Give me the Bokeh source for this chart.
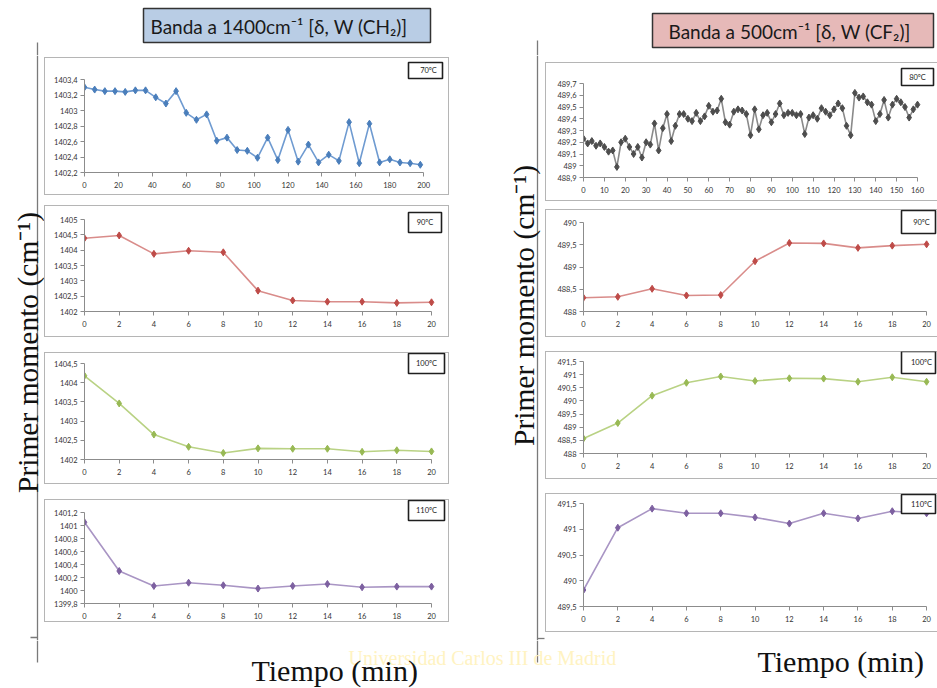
import numpy as np
from bokeh.plotting import figure
from bokeh.layouts import row, column
from bokeh.models import (Range1d, FixedTicker, CustomJSTickFormatter,
                          BoxAnnotation, Label, Spacer)
from bokeh.core.properties import value
from bokeh.embed import file_html
from bokeh.resources import INLINE

# ---------------- data ----------------
# CH2 band (~1400 cm-1), first moment vs time
t_70 = [0, 6, 12, 18, 24, 30, 36, 42, 48, 54, 60, 66, 72, 78, 84, 90, 96, 102,
        108, 114, 120, 126, 132, 138, 144, 150, 156, 162, 168, 174, 180, 186, 192, 198]
ch2_70 = [1403.30, 1403.27, 1403.25, 1403.25, 1403.24, 1403.26, 1403.26, 1403.17,
          1403.09, 1403.25, 1402.97, 1402.88, 1402.95, 1402.61, 1402.65, 1402.49,
          1402.48, 1402.39, 1402.65, 1402.36, 1402.75, 1402.34, 1402.56, 1402.33,
          1402.43, 1402.35, 1402.85, 1402.32, 1402.83, 1402.33, 1402.37, 1402.33,
          1402.32, 1402.30]

t_short = [0, 2, 4, 6, 8, 10, 12, 14, 16, 18, 20]
ch2_90 = [1404.39, 1404.48, 1403.88, 1403.98, 1403.93, 1402.68, 1402.36, 1402.32,
          1402.32, 1402.28, 1402.30]
ch2_100 = [1404.18, 1403.46, 1402.65, 1402.33, 1402.17, 1402.29, 1402.28, 1402.28,
           1402.20, 1402.24, 1402.21]
ch2_110 = [1401.05, 1400.30, 1400.07, 1400.12, 1400.08, 1400.03, 1400.07, 1400.10,
           1400.05, 1400.06, 1400.06]

# CF2 band (~500 cm-1), first moment vs time
t_80 = [0, 2, 4, 6, 8, 10, 12, 14, 16, 18, 20, 22, 24, 26, 28, 30, 32, 34, 36, 38,
        40, 42, 44, 46, 48, 50, 52, 54, 56, 58, 60, 62, 64, 66, 68, 70, 72, 74, 76,
        78, 80, 82, 84, 86, 88, 90, 92, 94, 96, 98, 100, 102, 104, 106, 108, 110,
        112, 114, 116, 118, 120, 122, 124, 126, 128, 130, 132, 134, 136, 138, 140,
        142, 144, 146, 148, 150, 152, 154, 156, 158, 160]
cf2_80 = [489.23, 489.19, 489.21, 489.17, 489.19, 489.16, 489.12, 489.13, 488.99,
          489.20, 489.23, 489.16, 489.10, 489.16, 489.07, 489.20, 489.18, 489.36,
          489.13, 489.32, 489.44, 489.21, 489.34, 489.44, 489.44, 489.40, 489.38,
          489.45, 489.38, 489.42, 489.51, 489.46, 489.47, 489.57, 489.37, 489.35,
          489.46, 489.48, 489.47, 489.44, 489.26, 489.48, 489.31, 489.43, 489.45,
          489.37, 489.44, 489.53, 489.43, 489.45, 489.45, 489.43, 489.44, 489.27,
          489.41, 489.43, 489.40, 489.49, 489.46, 489.43, 489.48, 489.53, 489.49,
          489.34, 489.26, 489.62, 489.58, 489.59, 489.54, 489.52, 489.38, 489.44,
          489.56, 489.41, 489.52, 489.57, 489.54, 489.50, 489.41, 489.48, 489.52]
cf2_90 = [488.31, 488.33, 488.51, 488.36, 488.37, 489.13, 489.54, 489.53, 489.43,
          489.48, 489.51]
cf2_100 = [488.57, 489.16, 490.20, 490.69, 490.93, 490.76, 490.86, 490.85, 490.73,
           490.90, 490.73]
cf2_110 = [489.82, 491.03, 491.40, 491.31, 491.31, 491.23, 491.11, 491.31, 491.21,
           491.35, 491.31]

# tick positions
ticks_t70 = [0, 20, 40, 60, 80, 100, 120, 140, 160, 180, 200]
ticks_t80 = [0, 10, 20, 30, 40, 50, 60, 70, 80, 90, 100, 110, 120, 130, 140, 150, 160]
ticks_short = [0, 2, 4, 6, 8, 10, 12, 14, 16, 18, 20]
ticks_ch2_70 = [1402.2, 1402.4, 1402.6, 1402.8, 1403.0, 1403.2, 1403.4]
ticks_ch2_90 = [1402.0, 1402.5, 1403.0, 1403.5, 1404.0, 1404.5, 1405.0]
ticks_ch2_100 = [1402.0, 1402.5, 1403.0, 1403.5, 1404.0, 1404.5]
ticks_ch2_110 = [1399.8, 1400.0, 1400.2, 1400.4, 1400.6, 1400.8, 1401.0, 1401.2]
ticks_cf2_80 = [488.9, 489.0, 489.1, 489.2, 489.3, 489.4, 489.5, 489.6, 489.7]
ticks_cf2_90 = [488.0, 488.5, 489.0, 489.5, 490.0]
ticks_cf2_100 = [488.0, 488.5, 489.0, 489.5, 490.0, 490.5, 491.0, 491.5]
ticks_cf2_110 = [489.5, 490.0, 490.5, 491.0, 491.5]

TICK_FONT = "Lato"
AXIS_GREY = "#8c8c8c"
BOX_GREY = "#b5b5b5"
BOX_ALL = "inset 0 0 0 1px " + BOX_GREY
BOX_OPEN_RIGHT = f"inset 1px 1px 0 0 {BOX_GREY}, inset 0 -1px 0 0 {BOX_GREY}"


def comma_fmt():
    return CustomJSTickFormatter(
        code="return String(Math.round(tick * 10) / 10).replace('.', ',');")


def panel(tx, vals, w, h, frame, xr, yr, xt, yt, line_c, mark_c, tag, tag_box,
          edge=BOX_ALL):
    # frame = (left, top, width, height) of the axis rectangle inside the chart box
    fl, ft, fw, fh = frame
    x0, x1 = xr
    y0, y1 = yr
    # the drawing area reaches the top and right of the chart box; the axes stop
    # at the data limits through their bounds
    x_end = x0 + (x1 - x0) * (w - fl) / fw
    y_end = y0 + (y1 - y0) * (ft + fh) / fh
    p = figure(width=w, height=h, x_range=Range1d(x0, x_end),
               y_range=Range1d(y0, y_end),
               min_border_left=fl, min_border_top=0, min_border_right=0,
               min_border_bottom=h - ft - fh,
               output_backend="svg", toolbar_location=None, tools="",
               styles={"box-shadow": edge})
    p.grid.visible = False
    p.outline_line_color = None
    p.background_fill_alpha = 0
    p.border_fill_alpha = 0

    p.line(tx, vals, line_color=line_c, line_width=1.6)
    p.scatter(tx, vals, marker="diamond", size=7, fill_color=mark_c,
              line_color=mark_c)

    p.xaxis.ticker = FixedTicker(ticks=xt)
    p.yaxis.ticker = FixedTicker(ticks=yt)
    p.yaxis.formatter = comma_fmt()
    p.xaxis.bounds = (x0, x1)
    p.yaxis.bounds = (y0, y1)
    for ax in (p.xaxis[0], p.yaxis[0]):
        ax.axis_line_color = AXIS_GREY
        ax.major_tick_line_color = AXIS_GREY
        ax.minor_tick_line_color = None
        ax.major_tick_out = 4
        ax.major_tick_in = 0
        ax.major_label_text_font = TICK_FONT
        ax.major_label_text_font_size = "7.5px"
        ax.major_label_text_color = "#333333"
    p.yaxis.major_label_standoff = 3
    p.xaxis.major_label_standoff = 5

    # temperature tag
    bx0, by0, bx1, by1 = tag_box
    p.add_layout(BoxAnnotation(left=bx0, right=bx1, top=by0, bottom=by1,
                               left_units="canvas", right_units="canvas",
                               top_units="canvas", bottom_units="canvas",
                               fill_color="white", fill_alpha=1,
                               line_color="#1f1f1f", line_alpha=1,
                               line_width=1.6))
    cx = (bx0 + bx1) / 2 - fl
    cy = (ft + fh) - (by0 + by1) / 2
    p.add_layout(Label(x=cx, y=cy, x_units="screen", y_units="screen", text=tag,
                       text_align="center", text_baseline="middle",
                       text_font=TICK_FONT, text_font_size="7.5px",
                       text_color="#222222"))
    return p


def deco(w, h):
    p = figure(width=w, height=h, x_range=Range1d(0, w), y_range=Range1d(h, 0),
               min_border=0, x_axis_type=None, y_axis_type=None,
               output_backend="svg", toolbar_location=None, tools="")
    p.grid.visible = False
    p.outline_line_color = None
    p.background_fill_color = "white"
    p.border_fill_color = "white"
    return p


BLUE_L, BLUE_M = "#6f9bd1", "#4a7ebb"
GREY_L, GREY_M = "#8a8a8a", "#4d4d4d"
RED_L, RED_M = "#d98c8a", "#be4b48"
GREEN_L, GREEN_M = "#b9d284", "#98b954"
PURP_L, PURP_M = "#a995c4", "#7d60a0"

LW, RW = 405, 392

# ---------------- left column: CH2 band ----------------
lp1 = panel(t_70, ch2_70, LW, 138, (37, 22, 342, 93), (0, 200), (1402.2, 1403.4),
            ticks_t70, ticks_ch2_70, BLUE_L, BLUE_M, "70ºC", (364, 5, 398, 21))
lp2 = panel(t_short, ch2_90, LW, 132, (40, 14, 347, 92), (0, 20), (1402, 1405),
            ticks_short, ticks_ch2_90, RED_L, RED_M, "90ºC", (364, 7, 397, 27))
lp3 = panel(t_short, ch2_100, LW, 132, (40, 11, 347, 96), (0, 20), (1402, 1404.5),
            ticks_short, ticks_ch2_100, GREEN_L, GREEN_M, "100ºC", (364, 1, 400, 21))
lp4 = panel(t_short, ch2_110, LW, 123, (40, 13, 347, 91), (0, 20), (1399.8, 1401.2),
            ticks_short, ticks_ch2_110, PURP_L, PURP_M, "110ºC", (364, 1, 400, 21))

left_col = column(Spacer(width=LW, height=2), lp1, Spacer(width=LW, height=10), lp2,
                  Spacer(width=LW, height=15), lp3, Spacer(width=LW, height=15), lp4,
                  Spacer(width=LW, height=18), spacing=0)

# ---------------- right column: CF2 band ----------------
rp1 = panel(t_80, cf2_80, RW, 139, (38, 21, 334, 94), (0, 160), (488.9, 489.7),
            ticks_t80, ticks_cf2_80, GREY_L, GREY_M, "80ºC", (356, 6, 388, 23),
            edge=BOX_OPEN_RIGHT)
rp2 = panel(t_short, cf2_90, RW, 128, (35, 13, 346, 89), (0, 20), (488, 490),
            ticks_short, ticks_cf2_90, RED_L, RED_M, "90ºC", (356, 1, 390, 24),
            edge=BOX_OPEN_RIGHT)
rp3 = panel(t_short, cf2_100, RW, 128, (35, 10, 346, 92), (0, 20), (488, 491.5),
            ticks_short, ticks_cf2_100, GREEN_L, GREEN_M, "100ºC", (356, 0, 390, 22),
            edge=BOX_OPEN_RIGHT)
rp4 = panel(t_short, cf2_110, RW, 139, (35, 10, 346, 103), (0, 20), (489.5, 491.5),
            ticks_short, ticks_cf2_110, PURP_L, PURP_M, "110ºC", (356, 1, 390, 20),
            edge=BOX_OPEN_RIGHT)

right_col = column(Spacer(width=RW, height=7), rp1, Spacer(width=RW, height=8), rp2,
                   Spacer(width=RW, height=14), rp3, Spacer(width=RW, height=14), rp4,
                   Spacer(width=RW, height=8), spacing=0)

SERIF = value("Liberation Serif")
YLABEL = "Primer momento (cm⁻¹)"

# ---------------- left y label strip ----------------
ylab_l = deco(44, 585)
ylab_l.segment(x0=[37, 30], y0=[0, 582], x1=[37, 37], y1=[585, 582],
               line_color="#7a7a7a", line_width=1.3)
ylab_l.text(x=[27], y=[297], text=[YLABEL], angle=np.pi / 2, text_align="center",
            text_baseline="middle", text_font=SERIF, text_font_size="29.5px",
            text_color="#111111")

# ---------------- middle strip with right y label ----------------
mid = deco(96, 585)
mid.segment(x0=[88, 88], y0=[0, 583], x1=[88, 95], y1=[585, 583],
            line_color="#7a7a7a", line_width=1.3)
mid.text(x=[74], y=[250], text=[YLABEL], angle=np.pi / 2, text_align="center",
         text_baseline="middle", text_font=SERIF, text_font_size="29.5px",
         text_color="#111111")

# ---------------- title strip ----------------
top = deco(937, 55)
top.segment(x0=[37, 537], y0=[42, 40], x1=[37, 537], y1=[55, 55],
            line_color="#7a7a7a", line_width=1.3)
top.quad(left=[143], right=[430], top=[8], bottom=[42], fill_color="#b9cde5",
         line_color="#333333", line_width=1.5)
top.quad(left=[652], right=[933], top=[13], bottom=[47], fill_color="#e6b9b8",
         line_color="#333333", line_width=1.5)
top.text(x=[150], y=[26], text=["Banda a 1400cm⁻¹ [δ, W (CH₂)]"],
         text_align="left", text_baseline="middle", text_font=value("Lato"),
         text_font_size="19px", text_color="#1a1a1a")
top.text(x=[668], y=[31], text=["Banda a 500cm⁻¹ [δ, W (CF₂)]"],
         text_align="left", text_baseline="middle", text_font=value("Lato"),
         text_font_size="19px", text_color="#1a1a1a")

# ---------------- bottom strip ----------------
bot = deco(937, 48)
bot.segment(x0=[37, 537], y0=[0, 0], x1=[37, 537], y1=[22, 22],
            line_color="#7a7a7a", line_width=1.3)
bot.text(x=[348], y=[17], text=["Universidad Carlos III de Madrid"],
         text_align="left", text_baseline="middle", text_font=SERIF,
         text_font_size="20px", text_color="#fff3c2")
bot.text(x=[251], y=[30], text=["Tiempo (min)"], text_align="left",
         text_baseline="middle", text_font=SERIF, text_font_size="30px",
         text_color="#111111")
bot.text(x=[757], y=[21], text=["Tiempo (min)"], text_align="left",
         text_baseline="middle", text_font=SERIF, text_font_size="30px",
         text_color="#111111")

layout = column(top, row(ylab_l, left_col, mid, right_col, spacing=0), bot, spacing=0)

open("out.html", "w").write(file_html(layout, INLINE))
